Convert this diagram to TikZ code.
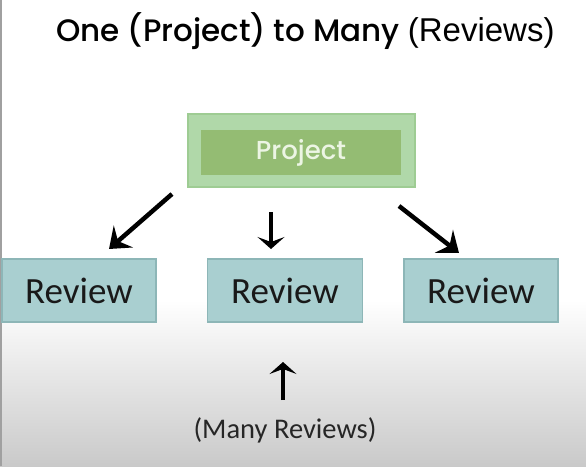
\documentclass[tikz,border=0pt]{standalone}
\usepackage{fontspec}
\setmainfont{Carlito}
\newfontfamily\poppinsfont{Poppins Medium}
\newfontfamily\arialfont{Liberation Sans}
\usetikzlibrary{arrows.meta,positioning}
\definecolor{reviewfill}{HTML}{A9CFD0}
\definecolor{reviewline}{HTML}{8DB6B7}
\definecolor{projouter}{HTML}{B0D8A9}
\definecolor{projline}{HTML}{9ECC93}
\definecolor{projinner}{HTML}{94BC73}
\definecolor{projtext}{HTML}{ECF5E4}
\definecolor{edgegray}{HTML}{A0A0A0}

\begin{document}
\begin{tikzpicture}[x=1pt,y=-1pt,
  reviewbox/.style={draw=reviewline,line width=1.5pt,fill=reviewfill,minimum width=154pt,minimum height=63pt,inner sep=0pt,text=black!90,font=\fontsize{37}{42}\selectfont},
  bigarrow/.style={line width=4.5pt,-{Stealth[length=19pt,width=29pt,inset=7pt]}},
  smallarrow/.style={line width=3.2pt,-{Stealth[length=12pt,width=27pt,inset=5pt]}}]
\useasboundingbox (0,0) rectangle (586,466);
% background
\fill[white] (0,0) rectangle (586,300);
\shade[top color=white,bottom color=black!21] (0,300) rectangle (586,466);
\fill[edgegray] (0,0) rectangle (2,466);
% title
\node[anchor=base west,inner sep=0pt] (title) at (56,41) {\fontsize{31}{36}\selectfont\poppinsfont One (Project) to Many {\arialfont\fontsize{33}{36}\selectfont (Reviews)}};
% project
\node[draw=projline,line width=1.5pt,fill=projouter,minimum width=227pt,minimum height=73pt] (projectbox) at (301.5,150.5) {};
\node[fill=projinner,minimum width=200pt,minimum height=45pt,inner sep=0pt,text=projtext,font=\poppinsfont\fontsize{26}{30}\selectfont] (project) at (301,152.5) {Project};
% reviews
\node[reviewbox] (revleft) at (79,290.5) {Review};
\node[reviewbox,minimum width=155pt] (revmid) at (285,290.5) {Review};
\node[reviewbox] (revright) at (481,290.5) {Review};
\node[text=black!85,font=\fontsize{28.5}{32}\selectfont] (many) at (285,430) {(Many Reviews)};
% arrows
\coordinate (ltail) at (172,194);
\coordinate (ltip) at (109,249);
\coordinate (mtail) at (271,212);
\coordinate (mtip) at (271,249);
\coordinate (rtail) at (399,206);
\coordinate (rtip) at (459,253);
\coordinate (utail) at (283,400);
\coordinate (utip) at (283,362);
\draw[bigarrow] (ltail) -- (ltip);
\draw[smallarrow] (mtail) -- (mtip);
\draw[bigarrow] (rtail) -- (rtip);
\draw[smallarrow] (utail) -- (utip);
\end{tikzpicture}
\end{document}
